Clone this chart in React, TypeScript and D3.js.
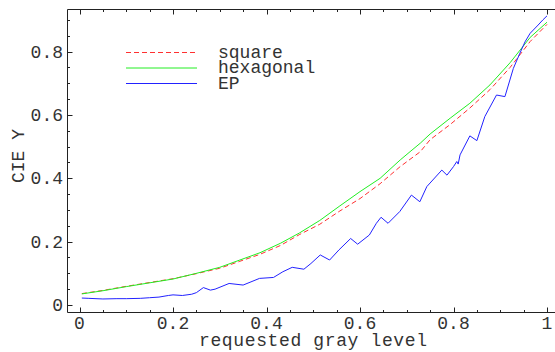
import React from 'react';
import * as d3 from 'd3';

// requested gray level vs measured CIE Y
const squareX = [0.005, 0.05, 0.1, 0.15, 0.2, 0.25, 0.3, 0.343, 0.386, 0.43, 0.47, 0.514, 0.557, 0.6, 0.643, 0.686, 0.729, 0.75, 0.793, 0.835, 0.878, 0.921, 0.964, 1.0];
const squareY = [0.036, 0.046, 0.059, 0.071, 0.083, 0.099, 0.116, 0.138, 0.160, 0.188, 0.222, 0.255, 0.297, 0.336, 0.383, 0.437, 0.484, 0.522, 0.570, 0.622, 0.680, 0.750, 0.832, 0.886];

const hexX = [0.005, 0.05, 0.1, 0.15, 0.2, 0.25, 0.3, 0.343, 0.386, 0.43, 0.47, 0.514, 0.557, 0.6, 0.643, 0.686, 0.707, 0.729, 0.75, 0.793, 0.835, 0.878, 0.921, 0.964, 1.0];
const hexY = [0.035, 0.045, 0.058, 0.070, 0.082, 0.100, 0.119, 0.142, 0.165, 0.195, 0.227, 0.267, 0.313, 0.358, 0.400, 0.458, 0.484, 0.511, 0.540, 0.590, 0.637, 0.695, 0.765, 0.845, 0.893];

const epX = [0.005, 0.02, 0.05, 0.08, 0.1, 0.13, 0.15, 0.17, 0.19, 0.2, 0.22, 0.24, 0.25, 0.265, 0.28, 0.29, 0.32, 0.35, 0.385, 0.415, 0.435, 0.455, 0.48, 0.495, 0.515, 0.535, 0.555, 0.58, 0.595, 0.62, 0.635, 0.645, 0.66, 0.685, 0.71, 0.728, 0.743, 0.775, 0.786, 0.8, 0.807, 0.81, 0.814, 0.835, 0.85, 0.867, 0.892, 0.91, 0.928, 0.942, 0.953, 0.964, 0.981, 0.991, 1.0];
const epY = [0.022, 0.021, 0.019, 0.020, 0.020, 0.021, 0.023, 0.025, 0.030, 0.032, 0.030, 0.034, 0.039, 0.055, 0.047, 0.050, 0.068, 0.063, 0.084, 0.087, 0.105, 0.119, 0.113, 0.131, 0.158, 0.142, 0.174, 0.210, 0.192, 0.221, 0.258, 0.277, 0.258, 0.295, 0.347, 0.326, 0.374, 0.426, 0.410, 0.437, 0.453, 0.445, 0.474, 0.534, 0.519, 0.595, 0.663, 0.658, 0.747, 0.795, 0.831, 0.858, 0.884, 0.900, 0.913];

const xTicks = [0, 0.2, 0.4, 0.6, 0.8, 1];
const xTickLabels = ['0', '0.2', '0.4', '0.6', '0.8', '1'];
const yTicks = [0, 0.2, 0.4, 0.6, 0.8];
const yTickLabels = ['0', '0.2', '0.4', '0.6', '0.8'];

const seriesNames = ['square', 'hexagonal', 'EP'];
const seriesColors = ['#ff3030', '#22ee22', '#2222ff'];

const W = 555;
const H = 352;
const frame = { left: 67.5, top: 9.5, bottom: 312.5, right: 556 };
const font = '"Liberation Mono", "Courier New", monospace';

export default function App() {
  const x = d3.scaleLinear().domain([0, 1]).range([79.5, 547]);
  const y = d3.scaleLinear().domain([0, 1]).range([305, -11.7]);

  const minorX = d3.range(0, 1.0001, 0.05);
  const minorY = d3.range(0, 0.9001, 0.05);
  const isMajor = (v: number) => Math.abs(v * 5 - Math.round(v * 5)) < 1e-6;

  const line = d3.line<[number, number]>().x(d => x(d[0])).y(d => y(d[1]));
  const series = [
    squareX.map((v, i) => [v, squareY[i]] as [number, number]),
    hexX.map((v, i) => [v, hexY[i]] as [number, number]),
    epX.map((v, i) => [v, epY[i]] as [number, number]),
  ];

  return (
    <svg width={W} height={H} style={{ position: 'absolute', left: 0, top: 0, background: '#fff' }}>
      <rect width={W} height={H} fill="#fff" />
      {/* frame */}
      <g stroke="#222" strokeWidth={1} fill="none">
        <line x1={frame.left} x2={frame.left} y1={frame.top} y2={frame.bottom} />
        <line x1={frame.left} x2={frame.right} y1={frame.top} y2={frame.top} />
        <line x1={frame.left} x2={frame.right} y1={frame.bottom} y2={frame.bottom} />
        {minorX.map((v, i) => {
          const len = isMajor(v) ? 5 : 2.5;
          const px = Math.round(x(v)) + 0.5;
          return (
            <g key={'xt' + i}>
              <line x1={px} x2={px} y1={frame.bottom} y2={frame.bottom - len} />
              <line x1={px} x2={px} y1={frame.top} y2={frame.top + len} />
            </g>
          );
        })}
        {minorY.map((v, i) => {
          const len = isMajor(v) ? 5 : 2.5;
          const py = Math.round(y(v)) + 0.5;
          return <line key={'yt' + i} x1={frame.left} x2={frame.left + len} y1={py} y2={py} />;
        })}
      </g>

      {/* tick labels */}
      <g fontFamily={font} fontSize={18} fill="#333">
        {xTicks.map((v, i) => (
          <text key={'xl' + i} x={x(v)} y={329} textAnchor="middle">{xTickLabels[i]}</text>
        ))}
        {yTicks.map((v, i) => (
          <text key={'yl' + i} x={63} y={y(v) + 6} textAnchor="end">{yTickLabels[i]}</text>
        ))}
        <text x={313} y={346} textAnchor="middle" textLength={228} lengthAdjust="spacing">requested gray level</text>
        <text transform="translate(24,156) rotate(-90)" textAnchor="middle">CIE Y</text>
      </g>

      {/* curves */}
      <g fill="none" strokeWidth={1}>
        {series.map((s, i) => (
          <path key={'s' + i} d={line(s) || ''} stroke={seriesColors[i]}
            strokeDasharray={i === 0 ? '5,3' : undefined} />
        ))}
      </g>

      {/* legend */}
      <g fontFamily={font} fontSize={18} fill="#333">
        {seriesNames.map((n, i) => {
          const ly = 52.5 + i * 15.5;
          return (
            <g key={'lg' + i}>
              <line x1={126} x2={197} y1={ly} y2={ly} stroke={seriesColors[i]} strokeWidth={1}
                strokeDasharray={i === 0 ? '5,3' : undefined} />
              <text x={218} y={ly + 5}>{n}</text>
            </g>
          );
        })}
      </g>
    </svg>
  );
}
